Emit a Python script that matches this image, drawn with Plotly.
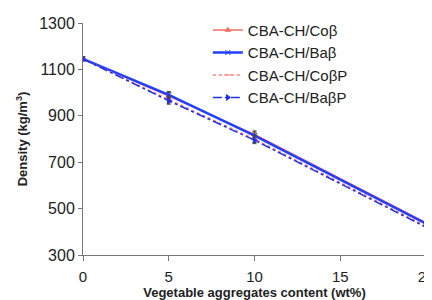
import plotly.graph_objects as go

x_vals = [0, 5, 10, 20]
names = ["CBA-CH/Coβ", "CBA-CH/Baβ", "CBA-CH/CoβP", "CBA-CH/BaβP"]
co_b = [1145, 985, 820, 440]
ba_b = [1145, 990, 815, 435]
co_bp = [1145, 970, 800, 425]
ba_bp = [1145, 965, 795, 420]
err_co_b = [8, 15, 15, 15]
err_ba_b = [8, 15, 15, 15]
err_co_bp = [8, 15, 15, 15]
err_ba_bp = [8, 15, 15, 15]
x_ticks = [0, 5, 10, 15, 20]
y_ticks = [300, 500, 700, 900, 1100, 1300]

series = [
    (co_b, err_co_b, "#f07060", "solid", "triangle-up", 1.5),
    (ba_b, err_ba_b, "#2040ff", "solid", "x-thin", 2.5),
    (co_bp, err_co_bp, "#ff8080", "dot", "line-ew", 1.5),
    (ba_bp, err_ba_bp, "#2030e0", "dashdot", "triangle-right", 1.5),
]

fig = go.Figure()
for name, (ys, es, col, dash, sym, w) in zip(names, series):
    fig.add_trace(go.Scatter(
        x=x_vals, y=ys, name=name, mode="lines+markers",
        line=dict(color=col, dash=dash, width=w),
        marker=dict(symbol=sym, size=5, color=col, line=dict(color=col, width=1)),
        error_y=dict(type="data", array=es, color="#444444", thickness=1, width=2),
    ))

# page body has an 8px margin, so the figure is sized/margined to compensate
fig.update_layout(
    width=424, height=292,
    margin=dict(l=75, r=6, t=6, b=45),
    paper_bgcolor="white", plot_bgcolor="white",
    font=dict(family="Liberation Sans, Arial, sans-serif", size=16, color="#222222"),
    showlegend=True,
    legend=dict(x=0.364, y=1.04, xanchor="left", yanchor="top",
                bgcolor="rgba(0,0,0,0)", font=dict(size=15), tracegroupgap=0,
                itemwidth=30),
    xaxis=dict(range=[0, 20], tickvals=x_ticks, showgrid=False, zeroline=False,
               showline=True, linecolor="#777777", linewidth=1, automargin=False,
               ticks="outside", ticklen=5, tickcolor="#777777",
               ticklabeloverflow="allow", tickfont=dict(size=15),
               ticklabelstandoff=3,
               title=dict(text="<b>Vegetable aggregates content (wt%)</b>", standoff=0,
                          font=dict(size=13))),
    yaxis=dict(range=[300, 1300], tickvals=y_ticks, showgrid=False, zeroline=False,
               showline=True, linecolor="#777777", linewidth=1, automargin=False,
               ticks="outside", ticklen=4, tickcolor="#777777",
               ticklabeloverflow="allow", tickfont=dict(size=16),
               title=dict(text="<b>Density (kg/m<sup>3</sup>)</b>", standoff=8,
                          font=dict(size=13))),
)

fig.write_html("out.html")
